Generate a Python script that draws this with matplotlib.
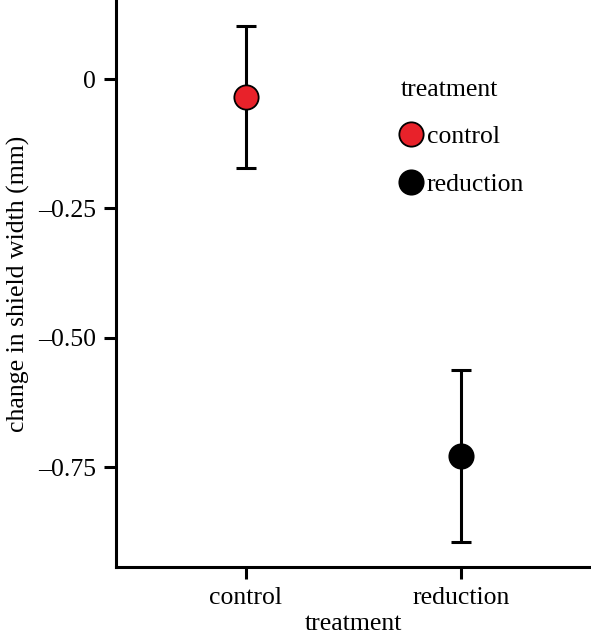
import matplotlib.pyplot as plt
from matplotlib.lines import Line2D

plt.rcParams['font.family'] = ['Liberation Serif', 'DejaVu Serif']

# data
treatments = ["control", "reduction"]
means = [-0.035, -0.729]
upper = [0.102, -0.562]
lower = [-0.172, -0.895]
colors = ["#E8222A", "#000000"]

fig = plt.figure(figsize=(5.91, 6.36), dpi=100)
ax = fig.add_axes([116 / 591, 69 / 636, 1 - 116 / 591, 1 - 69 / 636])

xs = list(range(1, len(treatments) + 1))
for x, m, hi, lo, c in zip(xs, means, upper, lower, colors):
    ax.errorbar(x, m, yerr=[[m - lo], [hi - m]], fmt='none', ecolor='black',
                elinewidth=2.2, capsize=7.5, capthick=2.2, zorder=2)
    ax.plot(x, m, 'o', ms=17.5, mfc=c, mec='black', mew=1.3, zorder=3)

ax.set_xlim(0.4, 2.6)
ax.set_ylim(-0.943, 0.153)
ax.set_xticks(xs)
ax.set_xticklabels(treatments)
ax.set_yticks([0, -0.25, -0.5, -0.75])
ax.set_yticklabels(["0", "\u20130.25", "\u20130.50", "\u20130.75"])

for s in ["top", "right"]:
    ax.spines[s].set_visible(False)
for s in ["left", "bottom"]:
    ax.spines[s].set_linewidth(2.2)
ax.tick_params(axis='both', length=8.5, width=2.2, labelsize=18.5, colors='black', pad=6)

ax.set_xlabel("treatment", fontsize=18.5, labelpad=2.5)
ax.set_ylabel("change in shield width (mm)", fontsize=18.5, labelpad=6)

handles = [Line2D([], [], ls='none', marker='o', ms=17.5, mfc=c, mec='black', mew=1.3)
           for c in colors]
leg = ax.legend(handles, treatments, title="treatment", fontsize=18.5, title_fontsize=18.5,
                frameon=False, handlelength=0.8, handletextpad=0.2, labelspacing=0.95,
                loc='upper left', bbox_to_anchor=(388 / 591, 1 - 66 / 636),
                bbox_transform=fig.transFigure, borderpad=0)
leg._legend_box.align = "left"

fig.savefig("out.png", dpi=100)
